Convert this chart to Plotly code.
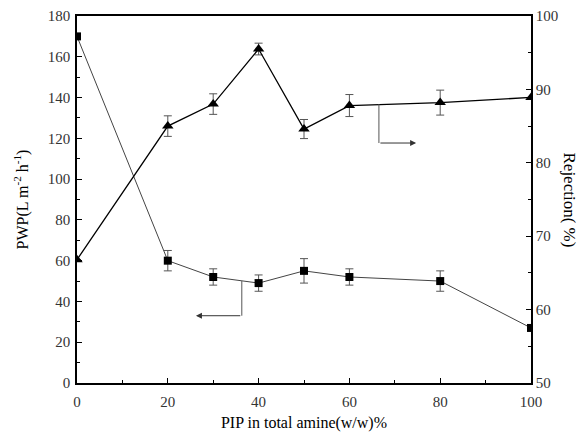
import plotly.graph_objects as go

pip = [0, 20, 30, 40, 50, 60, 80, 100]
pwp = [170, 60, 52, 49, 55, 52, 50, 27]
pwp_err = [0, 5, 4, 4, 6, 4, 5, 0]
rej = [66.8, 85.0, 88.0, 95.5, 84.6, 87.8, 88.2, 88.9]
rej_err = [0, 1.4, 1.4, 0.8, 1.3, 1.5, 1.7, 0]

FONT = "Liberation Serif"

fig = go.Figure()
fig.add_trace(go.Scatter(
    x=pip, y=pwp, mode="lines+markers",
    line=dict(color="#444444", width=1),
    marker=dict(symbol="square", size=8, color="black"),
    error_y=dict(type="data", array=pwp_err, color="#555555", thickness=1, width=4),
    showlegend=False))
fig.add_trace(go.Scatter(
    x=pip, y=rej, mode="lines+markers", yaxis="y2",
    line=dict(color="black", width=1.3),
    marker=dict(symbol="triangle-up", size=10, color="black"),
    error_y=dict(type="data", array=rej_err, color="#555555", thickness=1, width=4),
    showlegend=False))

# indicator arrows (in left-axis data coordinates)
fig.add_shape(type="line", x0=36.3, x1=36.3, y0=50, y1=33, line=dict(color="#555555", width=1))
fig.add_annotation(x=26.2, y=33, ax=36.3, ay=33, xref="x", yref="y", axref="x", ayref="y",
                   showarrow=True, arrowhead=2, arrowsize=1.2, arrowwidth=1, arrowcolor="#333333", text="")
fig.add_shape(type="line", x0=66.5, x1=66.5, y0=136.8, y1=117.7, line=dict(color="#555555", width=1))
fig.add_annotation(x=74.7, y=117.7, ax=66.5, ay=117.7, xref="x", yref="y", axref="x", ayref="y",
                   showarrow=True, arrowhead=2, arrowsize=1.2, arrowwidth=1, arrowcolor="#333333", text="")

fig.add_annotation(x=1, y=0.5, xref="paper", yref="paper", xanchor="center", yanchor="middle",
                   xshift=38, text="Rejection(&nbsp;%)",
                   textangle=90, showarrow=False, font=dict(family=FONT, size=17, color="black"))

axis_common = dict(showline=True, linecolor="black", linewidth=1.5, ticks="inside",
                   tickcolor="black", ticklen=5, showgrid=False, zeroline=False, automargin=False,
                   tickfont=dict(family=FONT, size=15, color="#333333"))

fig.update_layout(
    width=580, height=433,
    margin=dict(l=77, r=49, t=16, b=50),
    plot_bgcolor="white", paper_bgcolor="white",
    xaxis=dict(range=[0, 100], dtick=20, mirror=True, ticklabelstandoff=4,
               minor=dict(ticks="inside", dtick=10, ticklen=3, tickcolor="black"),
               title=dict(text="PIP in total amine(w/w)%", font=dict(family=FONT, size=16, color="black"), standoff=8),
               **axis_common),
    yaxis=dict(range=[0, 180], dtick=20, ticklabelstandoff=2,
               minor=dict(ticks="inside", dtick=10, ticklen=3, tickcolor="black"),
               title=dict(text="PWP(L m<sup>-2</sup> h<sup>-1</sup>)", font=dict(family=FONT, size=16, color="black"), standoff=15),
               **axis_common),
    yaxis2=dict(range=[50, 100], dtick=10, overlaying="y", side="right",
                minor=dict(ticks="inside", dtick=5, ticklen=3, tickcolor="black"),
                **axis_common),
)

fig.write_html("out.html")
